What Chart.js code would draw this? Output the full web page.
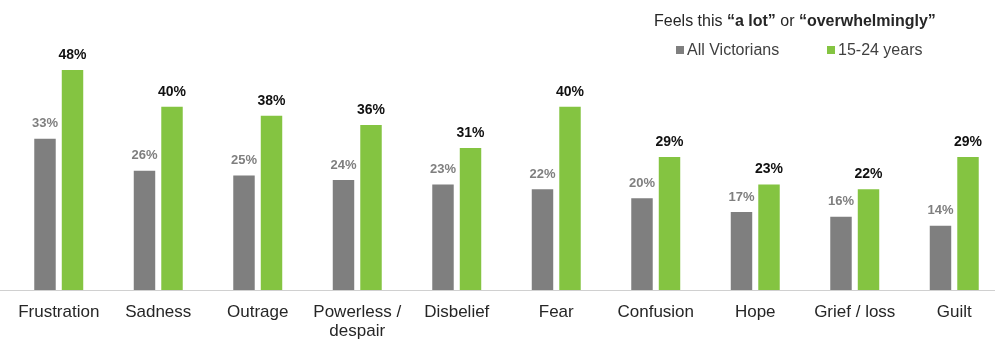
<!DOCTYPE html>
<html>
<head>
<meta charset="utf-8">
<script src="https://cdn.jsdelivr.net/npm/chart.js@4.4.1/dist/chart.umd.min.js"></script>
<style>
    html, body { margin: 0; padding: 0; background: #fff; overflow: hidden; }
    body { width: 995px; height: 341px; position: relative; font-family: "Liberation Sans", Arial, sans-serif; }
    #wrap { position: absolute; left: 0; top: 0; width: 1004px; height: 341px; }
    .legend-title { position: absolute; left: 654px; top: 12px; font-size: 16px; color: #262626; white-space: nowrap; }
    .legend-row { position: absolute; top: 41px; font-size: 16px; color: #404040; white-space: nowrap; }
    .swatch { display: inline-block; width: 8px; height: 8px; margin-right: 3px; vertical-align: 1px; }
</style>
</head>
<body>
<div id="wrap"><canvas id="chart"></canvas></div>
<div class="legend-title">Feels this <b>“a lot”</b> or <b>“overwhelmingly”</b></div>
<div class="legend-row" style="left:676px"><span class="swatch" style="background:#7f7f7f"></span>All Victorians</div>
<div class="legend-row" style="left:827px"><span class="swatch" style="background:#84c441"></span>15-24 years</div>
<script>
const categories = ["Frustration", "Sadness", "Outrage", ["Powerless /", "despair"], "Disbelief", "Fear", "Confusion", "Hope", "Grief / loss", "Guilt"];
const allVictorians = [33, 26, 25, 24, 23, 22, 20, 17, 16, 14];
const youngAdults = [48, 40, 38, 36, 31, 40, 29, 23, 22, 29];
const seriesNames = ["All Victorians", "15-24 years"];

const grayColor = "#7f7f7f";
const greenColor = "#84c441";

// value labels above bars and the baseline across the whole width
const barLabels = {
    id: "barLabels",
    afterDatasetsDraw(chart) {
        const ctx = chart.ctx;
        const yScale = chart.scales.y;
        const base = Math.round(yScale.getPixelForValue(0)) + 0.5;
        ctx.save();
        ctx.strokeStyle = "#d0d0d0";
        ctx.lineWidth = 1;
        ctx.beginPath();
        ctx.moveTo(0, base);
        ctx.lineTo(chart.width, base);
        ctx.stroke();

        ctx.textAlign = "center";
        ctx.textBaseline = "middle";
        chart.data.datasets.forEach((dataset, di) => {
            const meta = chart.getDatasetMeta(di);
            meta.data.forEach((bar, i) => {
                if (di === 0) {
                    ctx.font = "bold 13px 'Liberation Sans', Arial, sans-serif";
                    ctx.fillStyle = grayColor;
                } else {
                    ctx.font = "bold 14px 'Liberation Sans', Arial, sans-serif";
                    ctx.fillStyle = "#111";
                }
                ctx.fillText(dataset.data[i] + "%", bar.x, bar.y - 15);
            });
        });
        ctx.restore();
    }
};

new Chart(document.getElementById("chart"), {
    type: "bar",
    data: {
        labels: categories,
        datasets: [
            {
                label: seriesNames[0],
                data: allVictorians,
                backgroundColor: grayColor,
                categoryPercentage: 0.553,
                barPercentage: 0.78
            },
            {
                label: seriesNames[1],
                data: youngAdults,
                backgroundColor: greenColor,
                categoryPercentage: 0.553,
                barPercentage: 0.78
            }
        ]
    },
    options: {
        responsive: true,
        maintainAspectRatio: false,
        animation: false,
        layout: { padding: { left: 9, right: 0, top: 15, bottom: 2 } },
        plugins: {
            legend: { display: false },
            tooltip: { enabled: false }
        },
        scales: {
            x: {
                grid: { display: false },
                border: { display: false },
                afterFit(scale) {
                    scale.height = 49;
                },
                ticks: {
                    color: "#262626",
                    padding: 5,
                    maxRotation: 0,
                    autoSkip: false,
                    font: { family: "'Liberation Sans', Arial, sans-serif", size: 17, lineHeight: 1.1 }
                }
            },
            y: {
                display: false,
                min: 0,
                max: 60
            }
        }
    },
    plugins: [barLabels]
});
</script>
</body>
</html>
